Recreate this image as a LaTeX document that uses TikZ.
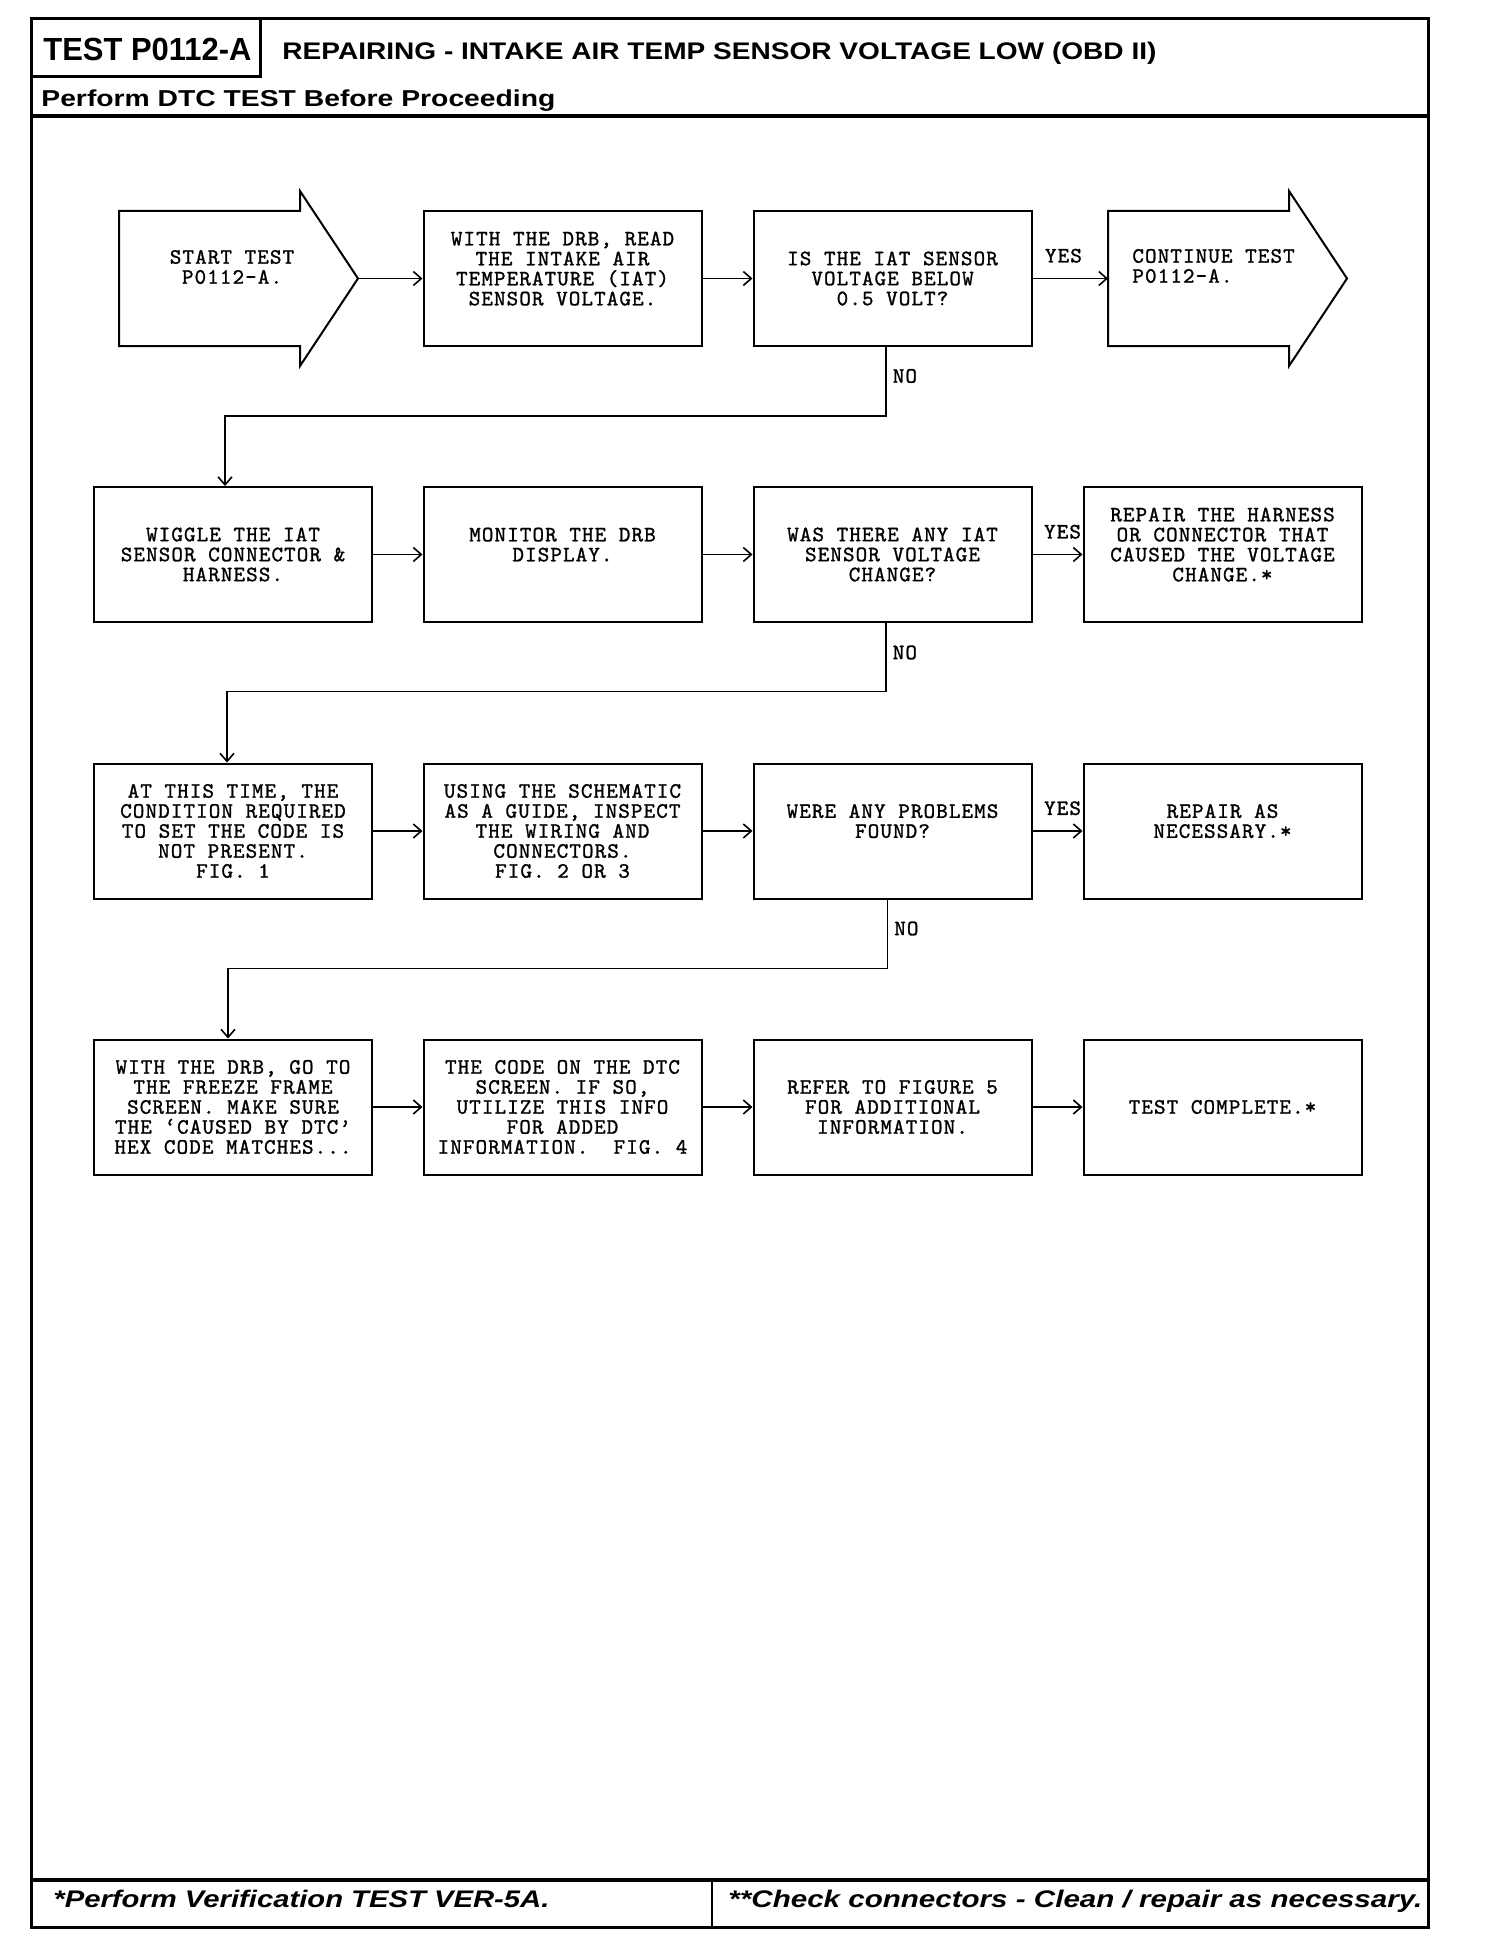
\documentclass[tikz,border=0pt]{standalone}
\usepackage{fontspec}
\usepackage{graphicx}
\usetikzlibrary{arrows.meta,calc}
\newfontfamily\boxfont{Latin Modern Mono}[LetterSpace=5,FakeBold=1.2]
\newfontfamily\hdrfont{Liberation Sans}
\newcommand\fitw[2]{\resizebox{#1}{\height}{#2}}
\begin{document}
\begin{tikzpicture}[x=0.5pt,y=-0.5pt,
  stepbox/.style={draw, line width=1pt, minimum width=139pt, minimum height=67.5pt,
    inner sep=0pt, align=center, font={\boxfont\fontsize{11}{10}\selectfont}},
  txt/.style={inner sep=0pt, font={\boxfont\fontsize{11}{10}\selectfont}},
  lbl/.style={inner sep=0pt, font={\boxfont\fontsize{11}{10}\selectfont}},
  conn/.style={line width=0.8pt, -{Straight Barb[length=4pt,width=7pt]}},
  shapeline/.style={line width=1pt, line join=miter},
  frame/.style={line width=1.5pt},
  heavy/.style={line width=2pt}]
\useasboundingbox (0,0) rectangle (1504,1958);
\fill[white] (0,0) rectangle (1504,1958);

% frame and header/footer
\draw[frame] (31,19) rectangle (1428,1927);
\draw[frame] (31,77) -- (260,77) -- (260,19);
\draw[heavy] (31,116) -- (1428,116);
\draw[heavy] (31,1880) -- (1428,1880);
\draw[line width=1pt] (712,1880) -- (712,1927);

\node[anchor=base west, inner sep=0pt] (title) at (43,61)
  {\hdrfont\bfseries\fontsize{16}{16}\selectfont\fitw{104pt}{TEST P0112-A}};
\node[anchor=base west, inner sep=0pt] (hdr) at (282,60)
  {\hdrfont\bfseries\fontsize{12}{12}\selectfont\fitw{437pt}{REPAIRING - INTAKE AIR TEMP SENSOR VOLTAGE LOW (OBD II)}};
\node[anchor=base west, inner sep=0pt] (perf) at (41,107)
  {\hdrfont\bfseries\fontsize{11.5}{12}\selectfont\fitw{257pt}{Perform DTC TEST Before Proceeding}};
\node[anchor=base west, inner sep=0pt] (foot1) at (53,1907)
  {\hdrfont\bfseries\itshape\fontsize{12}{12}\selectfont\fitw{248pt}{*Perform Verification TEST VER-5A.}};
\node[anchor=base west, inner sep=0pt] (foot2) at (728,1907)
  {\hdrfont\bfseries\itshape\fontsize{12}{12}\selectfont\fitw{347pt}{**Check connectors - Clean / repair as necessary.}};

% start arrow
\draw[shapeline] (119,211) -- (300,211) -- (300,191) -- (358,278.5) -- (300,366) -- (300,346) -- (119,346) -- cycle;
\coordinate (s0tip) at (358,278.5);
\node[txt, align=center] (s0) at (232,267) {START TEST\\P0112-A.};

% end arrow
\draw[shapeline] (1108,211) -- (1289,211) -- (1289,191) -- (1347,278.5) -- (1289,366) -- (1289,346) -- (1108,346) -- cycle;
\coordinate (e0tail) at (1108,278.5);
\node[txt, align=left, anchor=west] (e0) at (1132,266) {CONTINUE TEST\\P0112-A.};

% row 1
\node[stepbox] (b2) at (562.5,278.5) {WITH THE DRB, READ\\THE INTAKE AIR\\TEMPERATURE (IAT)\\SENSOR VOLTAGE.\\~};
\node[stepbox] (b3) at (892.5,278.5) {IS THE IAT SENSOR\\VOLTAGE BELOW\\0.5 VOLT?};

% row 2
\node[stepbox] (b5) at (233,554.5) {WIGGLE THE IAT\\SENSOR CONNECTOR \&\\HARNESS.};
\node[stepbox] (b6) at (562.5,554.5) {MONITOR THE DRB\\DISPLAY.\\~};
\node[stepbox] (b7) at (892.5,554.5) {WAS THERE ANY IAT\\SENSOR VOLTAGE\\CHANGE?};
\node[stepbox] (b8) at (1222.5,554.5) {REPAIR THE HARNESS\\OR CONNECTOR THAT\\CAUSED THE VOLTAGE\\CHANGE.*\\~};

% row 3
\node[stepbox] (b9) at (233,831) {AT THIS TIME, THE\\CONDITION REQUIRED\\TO SET THE CODE IS\\NOT PRESENT.\\FIG. 1};
\node[stepbox] (b10) at (562.5,831) {USING THE SCHEMATIC\\AS A GUIDE, INSPECT\\THE WIRING AND\\CONNECTORS.\\FIG. 2 OR 3};
\node[stepbox] (b11) at (892.5,831) {WERE ANY PROBLEMS\\FOUND?\\~};
\node[stepbox] (b12) at (1222.5,831) {REPAIR AS\\NECESSARY.*\\~};

% row 4
\node[stepbox] (b13) at (233,1107) {WITH THE DRB, GO TO\\THE FREEZE FRAME\\SCREEN. MAKE SURE\\THE ‘CAUSED BY DTC’\\HEX CODE MATCHES...};
\node[stepbox] (b14) at (562.5,1107) {THE CODE ON THE DTC\\SCREEN. IF SO,\\UTILIZE THIS INFO\\FOR ADDED\\INFORMATION.~ FIG. 4};
\node[stepbox] (b15) at (892.5,1107) {REFER TO FIGURE 5\\FOR ADDITIONAL\\INFORMATION.};
\node[stepbox] (b16) at (1222.5,1107) {TEST COMPLETE.*};

% connectors row 1
\draw[conn] (s0tip) -- (b2.west);
\draw[conn] (b2) -- (b3);
\draw[conn] (b3.east) -- node[lbl, pos=0.41, above=7.5pt]{YES} (e0tail);
\draw[conn] ([xshift=-3.25pt]b3.south) -- node[lbl, pos=0.42, right=3pt]{NO} ++(0,69) -| ([xshift=-4pt]b5.north);

% row 2
\draw[conn] (b5) -- (b6);
\draw[conn] (b6) -- (b7);
\draw[conn] (b7) -- node[lbl, pos=0.6, above=7.5pt]{YES} (b8);
\draw[conn] ([xshift=-3.25pt]b7.south) -- node[lbl, pos=0.43, right=3pt]{NO} ++(0,68.5) -| ([xshift=-3pt]b9.north);

% row 3
\draw[conn] (b9) -- (b10);
\draw[conn] (b10) -- (b11);
\draw[conn] (b11) -- node[lbl, pos=0.6, above=7.5pt]{YES} (b12);
\draw[conn] ([xshift=-2.5pt]b11.south) -- node[lbl, pos=0.42, right=3pt]{NO} ++(0,69) -| ([xshift=-2.5pt]b13.north);

% row 4
\draw[conn] (b13) -- (b14);
\draw[conn] (b14) -- (b15);
\draw[conn] (b15) -- (b16);
\end{tikzpicture}
\end{document}
